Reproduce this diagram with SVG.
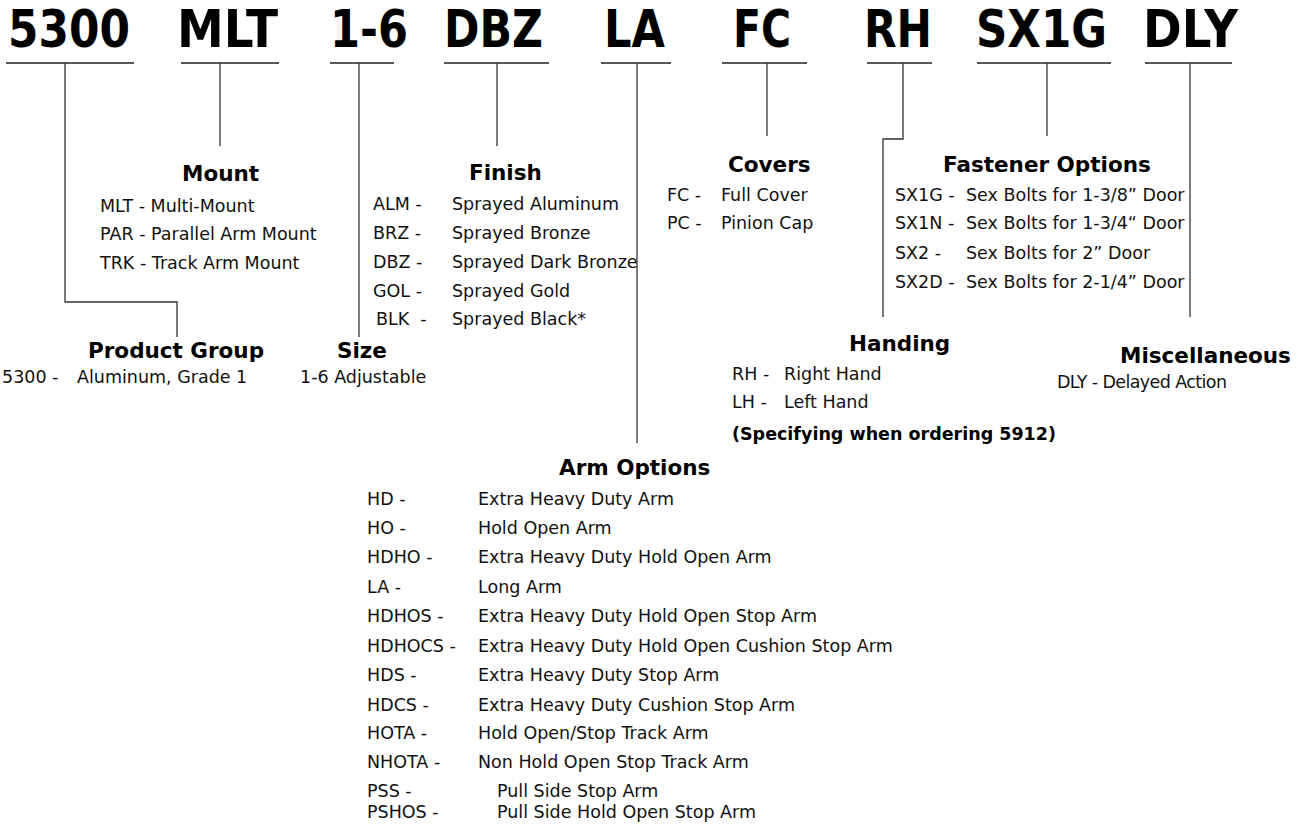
<svg xmlns="http://www.w3.org/2000/svg" width="1303" height="834" viewBox="0 0 1303 834">
<style>
.hdr{font-family:"DejaVu Sans",Verdana,sans-serif;font-weight:bold;font-size:52px;fill:#000}
.h{font-family:"DejaVu Sans",Verdana,sans-serif;font-weight:bold;font-size:21.5px;fill:#000}
.t{font-family:"DejaVu Sans",Verdana,sans-serif;font-size:17.5px;fill:#111;white-space:pre}
.tb{font-family:"DejaVu Sans",Verdana,sans-serif;font-weight:bold;font-size:17.5px;fill:#000}
.ln{fill:none;stroke:#333;stroke-width:1.3}
.ul{fill:none;stroke:#222;stroke-width:1.6}
</style>
<rect width="1303" height="834" fill="#fff"/>
<g id="header">
<text class="hdr" x="8" y="47" textLength="122" lengthAdjust="spacingAndGlyphs">5300</text>
<text class="hdr" x="177" y="47" textLength="101" lengthAdjust="spacingAndGlyphs">MLT</text>
<text class="hdr" x="330" y="47" textLength="78" lengthAdjust="spacingAndGlyphs">1-6</text>
<text class="hdr" x="444" y="47" textLength="99" lengthAdjust="spacingAndGlyphs">DBZ</text>
<text class="hdr" x="604" y="47" textLength="61" lengthAdjust="spacingAndGlyphs">LA</text>
<text class="hdr" x="733" y="47" textLength="58" lengthAdjust="spacingAndGlyphs">FC</text>
<text class="hdr" x="864" y="47" textLength="68" lengthAdjust="spacingAndGlyphs">RH</text>
<text class="hdr" x="976" y="47" textLength="131" lengthAdjust="spacingAndGlyphs">SX1G</text>
<text class="hdr" x="1143" y="47" textLength="95" lengthAdjust="spacingAndGlyphs">DLY</text>
</g>
<g id="connectors">
<path class="ul" d="M6,63H134M181,63H279M330,63H394M444,63H549M601,63H671M722,63H807M867,63H932M977,63H1111M1145,63H1232"/>
<path class="ln" d="M65,63V302H177V337"/>
<path class="ln" d="M220,63V146"/>
<path class="ln" d="M359,63V337"/>
<path class="ln" d="M497,63V146"/>
<path class="ln" d="M637,63V443"/>
<path class="ln" d="M767,63V136"/>
<path class="ln" d="M903,63V139H883V317"/>
<path class="ln" d="M1047,63V136"/>
<path class="ln" d="M1190,63V317"/>
</g>
<g id="mount">
<text class="h" x="182" y="181">Mount</text>
<text class="t" x="100" y="212">MLT - Multi-Mount</text>
<text class="t" x="100" y="240">PAR - Parallel Arm Mount</text>
<text class="t" x="100" y="269">TRK - Track Arm Mount</text>
</g>
<g id="finish">
<text class="h" x="469" y="180">Finish</text>
<text class="t" x="373" y="210">ALM -</text><text class="t" x="452" y="210">Sprayed Aluminum</text>
<text class="t" x="373" y="239">BRZ -</text><text class="t" x="452" y="239">Sprayed Bronze</text>
<text class="t" x="373" y="268">DBZ -</text><text class="t" x="452" y="268">Sprayed Dark Bronze</text>
<text class="t" x="373" y="297">GOL -</text><text class="t" x="452" y="297">Sprayed Gold</text>
<text class="t" x="376" y="325">BLK  -</text><text class="t" x="452" y="325">Sprayed Black*</text>
</g>
<g id="covers">
<text class="h" x="728" y="172">Covers</text>
<text class="t" x="667" y="201">FC -</text><text class="t" x="721" y="201">Full Cover</text>
<text class="t" x="667" y="229">PC -</text><text class="t" x="721" y="229">Pinion Cap</text>
</g>
<g id="fastener">
<text class="h" x="943" y="172">Fastener Options</text>
<text class="t" x="895" y="201">SX1G -</text><text class="t" x="966" y="201">Sex Bolts for 1-3/8” Door</text>
<text class="t" x="895" y="229">SX1N -</text><text class="t" x="966" y="229">Sex Bolts for 1-3/4“ Door</text>
<text class="t" x="895" y="259">SX2 -</text><text class="t" x="966" y="259">Sex Bolts for 2” Door</text>
<text class="t" x="895" y="288">SX2D -</text><text class="t" x="966" y="288">Sex Bolts for 2-1/4” Door</text>
</g>
<g id="product-group">
<text class="h" x="88" y="358">Product Group</text>
<text class="t" x="2" y="383">5300 -</text><text class="t" x="77" y="383">Aluminum, Grade 1</text>
</g>
<g id="size">
<text class="h" x="337" y="358">Size</text>
<text class="t" x="300" y="383">1-6 Adjustable</text>
</g>
<g id="handing">
<text class="h" x="849" y="351">Handing</text>
<text class="t" x="732" y="380">RH -</text><text class="t" x="784" y="380">Right Hand</text>
<text class="t" x="732" y="408">LH -</text><text class="t" x="784" y="408">Left Hand</text>
<text class="tb" x="732" y="440">(Specifying when ordering 5912)</text>
</g>
<g id="misc">
<text class="h" x="1120" y="363">Miscellaneous</text>
<text class="t" x="1057" y="388" textLength="170">DLY - Delayed Action</text>
</g>
<g id="arm-options">
<text class="h" x="559" y="475">Arm Options</text>
<text class="t" x="367" y="505">HD -</text><text class="t" x="478" y="505">Extra Heavy Duty Arm</text>
<text class="t" x="367" y="534">HO -</text><text class="t" x="478" y="534">Hold Open Arm</text>
<text class="t" x="367" y="563">HDHO -</text><text class="t" x="478" y="563">Extra Heavy Duty Hold Open Arm</text>
<text class="t" x="367" y="593">LA -</text><text class="t" x="478" y="593">Long Arm</text>
<text class="t" x="367" y="622">HDHOS -</text><text class="t" x="478" y="622">Extra Heavy Duty Hold Open Stop Arm</text>
<text class="t" x="367" y="652">HDHOCS -</text><text class="t" x="478" y="652">Extra Heavy Duty Hold Open Cushion Stop Arm</text>
<text class="t" x="367" y="681">HDS -</text><text class="t" x="478" y="681">Extra Heavy Duty Stop Arm</text>
<text class="t" x="367" y="711">HDCS -</text><text class="t" x="478" y="711">Extra Heavy Duty Cushion Stop Arm</text>
<text class="t" x="367" y="739">HOTA -</text><text class="t" x="478" y="739">Hold Open/Stop Track Arm</text>
<text class="t" x="367" y="768">NHOTA -</text><text class="t" x="478" y="768">Non Hold Open Stop Track Arm</text>
<text class="t" x="367" y="797">PSS -</text><text class="t" x="497" y="797">Pull Side Stop Arm</text>
<text class="t" x="367" y="818">PSHOS -</text><text class="t" x="497" y="818">Pull Side Hold Open Stop Arm</text>
</g>
</svg>
